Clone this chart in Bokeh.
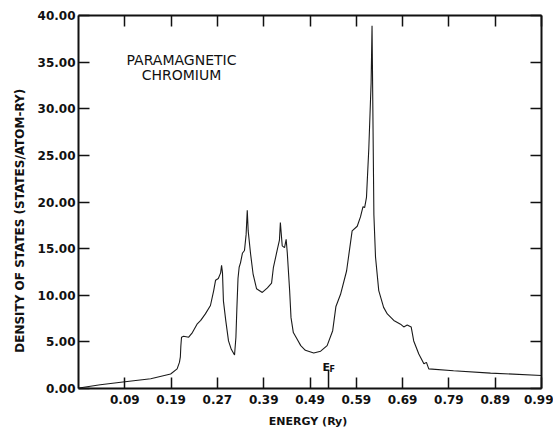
from bokeh.plotting import figure
from bokeh.models import Range1d, LinearAxis, FixedTicker, Label
from bokeh.embed import file_html
from bokeh.resources import INLINE

# ---- data ----
energy = [-0.009, 0.037, 0.086, 0.146, 0.189, 0.203, 0.208, 0.210, 0.211, 0.2125,
          0.217, 0.228, 0.236, 0.246, 0.254, 0.264, 0.275, 0.282, 0.286, 0.292,
          0.297, 0.299, 0.301, 0.303, 0.308, 0.314, 0.320, 0.327, 0.330, 0.332,
          0.3345, 0.337, 0.340, 0.344, 0.3485, 0.352, 0.3545, 0.3565, 0.3615, 0.367,
          0.3745, 0.387, 0.398, 0.407, 0.411, 0.419, 0.424, 0.426, 0.430, 0.435,
          0.4385, 0.441, 0.446, 0.449, 0.454, 0.462, 0.470, 0.480, 0.498, 0.513,
          0.527, 0.539, 0.546, 0.556, 0.569, 0.581, 0.592, 0.599, 0.6045, 0.608,
          0.612, 0.617, 0.622, 0.624, 0.628, 0.6315, 0.6385, 0.649, 0.657, 0.671,
          0.6855, 0.6925, 0.700, 0.7085, 0.714, 0.725, 0.736, 0.7415, 0.7465, 0.800,
          0.880, 0.99]
dos = [0.05, 0.4, 0.7, 1.05, 1.55, 2.1, 2.8, 3.4, 4.5, 5.5,
       5.6, 5.5, 6.0, 6.9, 7.3, 8.0, 8.9, 10.5, 11.6, 11.8,
       12.4, 13.2, 12.4, 9.4, 7.3, 5.1, 4.2, 3.6, 5.5, 8.5,
       11.8, 13.0, 13.5, 14.5, 14.8, 16.5, 19.1, 16.9, 14.5, 12.3,
       10.7, 10.3, 10.8, 11.3, 13.0, 14.8, 15.9, 17.8, 15.3, 15.1,
       16.0, 14.5, 10.5, 7.6, 6.0, 5.3, 4.6, 4.1, 3.8, 4.0,
       4.6, 6.2, 8.8, 10.1, 12.6, 16.9, 17.4, 18.4, 19.5, 19.4,
       20.5, 25.7, 32.8, 38.9, 18.6, 14.1, 10.5, 8.7, 8.0, 7.3,
       6.9, 6.6, 6.8, 6.6, 5.1, 3.7, 2.65, 2.8, 2.1, 1.9,
       1.65, 1.4]

x_tick_values = [0.09, 0.19, 0.29, 0.39, 0.49, 0.59, 0.69, 0.79, 0.89, 0.99]
x_tick_labels = ["0.09", "0.19", "0.27", "0.39", "0.49", "0.59", "0.69", "0.79", "0.89", "0.99"]
y_tick_values = [0, 5, 10, 15, 20, 25, 30, 35, 40]
y_tick_labels = ["0.00", "5.00", "10.00", "15.00", "20.00", "25.00", "30.00", "35.00", "40.00"]
fermi_energy = 0.53

FONT = "DejaVu Sans"
INK = "#111111"

p = figure(width=553, height=431,
           x_range=Range1d(-0.01, 0.99), y_range=Range1d(0, 40),
           output_backend="svg", toolbar_location=None,
           min_border_left=78, min_border_right=12,
           min_border_top=15, min_border_bottom=43)
p.grid.visible = False
p.outline_line_color = None
p.background_fill_color = "white"
p.border_fill_color = "white"


def style_axis(ax, ticks):
    ax.ticker = FixedTicker(ticks=ticks)
    ax.axis_line_width = 2
    ax.axis_line_color = INK
    ax.major_tick_in = 11
    ax.major_tick_out = 0
    ax.major_tick_line_width = 1.5
    ax.major_tick_line_color = INK
    ax.minor_tick_line_color = None
    ax.major_label_text_font = FONT
    ax.major_label_text_font_style = "bold"
    ax.major_label_text_font_size = "12px"
    ax.major_label_text_color = INK
    ax.axis_label_text_font = FONT
    ax.axis_label_text_font_style = "bold"
    ax.axis_label_text_color = INK


xa = p.xaxis[0]
style_axis(xa, x_tick_values)
xa.major_label_overrides = dict(zip(x_tick_values, x_tick_labels))
xa.major_label_standoff = 6
xa.axis_label = "ENERGY  (Ry)"
xa.axis_label_text_font_size = "11px"
xa.axis_label_standoff = 8

ya = p.yaxis[0]
style_axis(ya, y_tick_values)
ya.major_label_overrides = dict(zip(y_tick_values, y_tick_labels))
ya.major_label_standoff = 3
ya.axis_label = "DENSITY    OF    STATES    (STATES/ATOM-RY)"
ya.axis_label_text_font_size = "12px"
ya.axis_label_standoff = 8

top = LinearAxis()
style_axis(top, x_tick_values)
top.major_label_text_font_size = "0px"
top.major_label_text_color = None
top.major_label_standoff = 0
p.add_layout(top, "above")

right = LinearAxis()
style_axis(right, y_tick_values)
right.major_label_text_font_size = "0px"
right.major_label_text_color = None
right.major_label_standoff = 0
p.add_layout(right, "right")

# density of states curve
p.line(energy, dos, line_color="#1a1a1a", line_width=1.1)

# Fermi level marker (longer tick)
p.segment(x0=[fermi_energy], y0=[0], x1=[fermi_energy], y1=[1.95],
          line_color=INK, line_width=1.5)
p.add_layout(Label(x=fermi_energy, y=0, x_offset=-6, y_offset=21, text="E",
                   text_font=FONT, text_font_style="bold", text_font_size="11px",
                   text_color=INK, text_align="left", text_baseline="alphabetic"))
p.add_layout(Label(x=fermi_energy, y=0, x_offset=1, y_offset=19, text="F",
                   text_font=FONT, text_font_style="bold", text_font_size="8px",
                   text_color=INK, text_align="left", text_baseline="alphabetic"))

# title inside plot
p.add_layout(Label(x=0.2125, y=35.28, text="PARAMAGNETIC",
                   text_font=FONT, text_font_size="14px", text_color=INK,
                   text_align="center", text_baseline="alphabetic"))
p.add_layout(Label(x=0.2125, y=33.67, text="CHROMIUM",
                   text_font=FONT, text_font_size="14px", text_color=INK,
                   text_align="center", text_baseline="alphabetic"))

open("out.html", "w").write(file_html(p, INLINE))
